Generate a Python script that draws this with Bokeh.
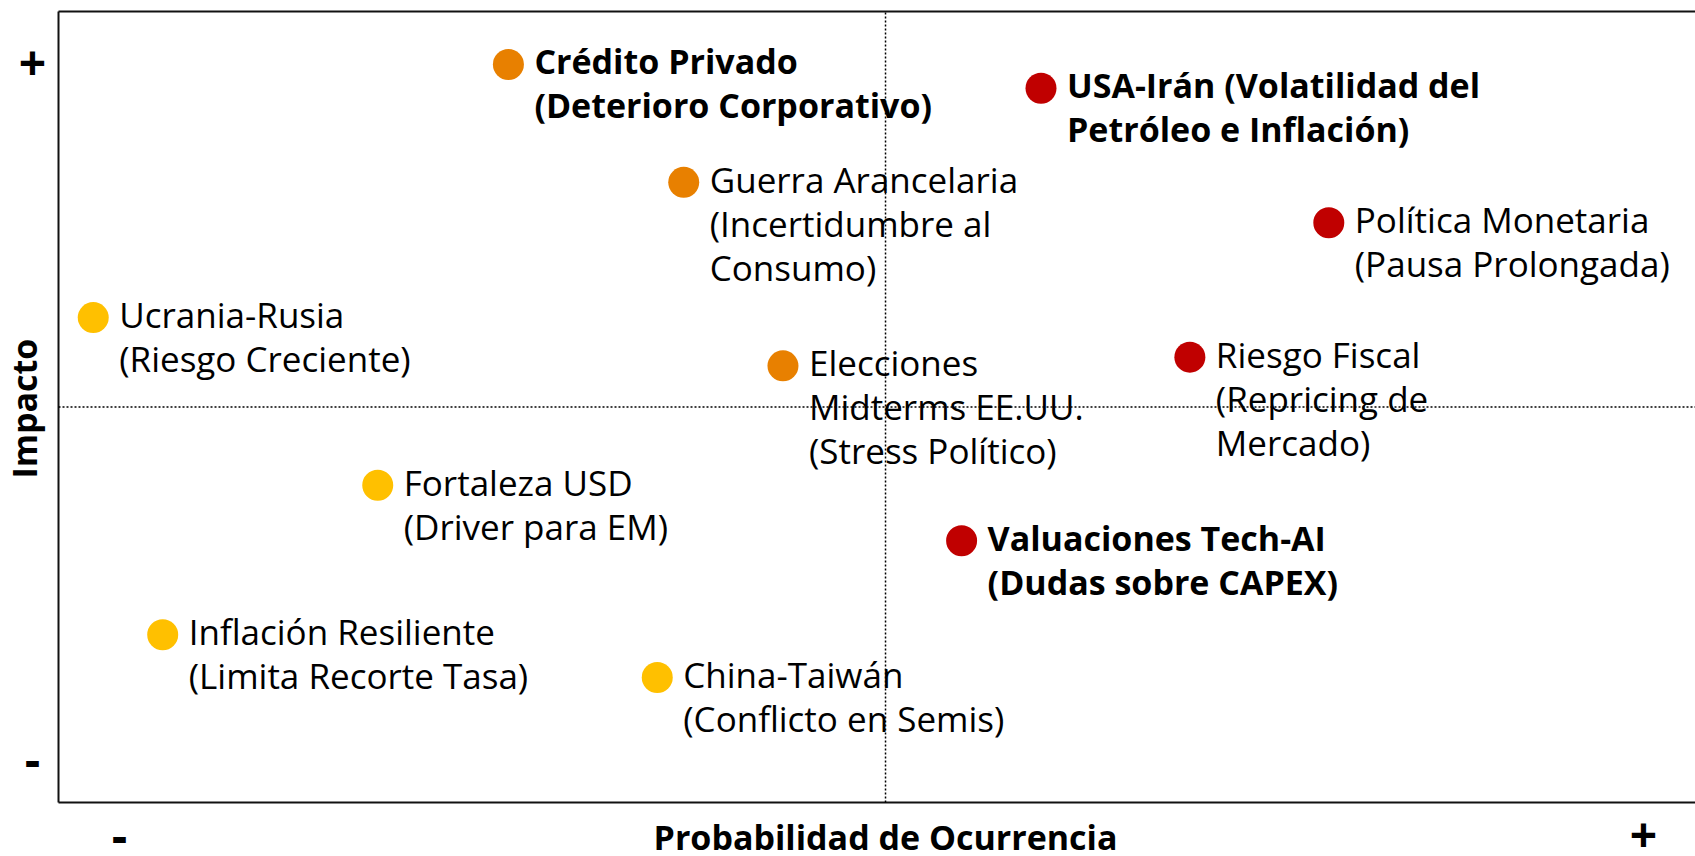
import math
from bokeh.plotting import figure
from bokeh.models import Range1d, ColumnDataSource
from bokeh.core.properties import value, field
from bokeh.embed import file_html
from bokeh.resources import INLINE

# ---- data ----
riesgos = [
    "Crédito Privado\n(Deterioro Corporativo)",
    "USA-Irán (Volatilidad del\nPetróleo e Inflación)",
    "Guerra Arancelaria\n(Incertidumbre al\nConsumo)",
    "Política Monetaria\n(Pausa Prolongada)",
    "Ucrania-Rusia\n(Riesgo Creciente)",
    "Riesgo Fiscal\n(Repricing de\nMercado)",
    "Elecciones\nMidterms EE.UU.\n(Stress Político)",
    "Fortaleza USD\n(Driver para EM)",
    "Valuaciones Tech-AI\n(Dudas sobre CAPEX)",
    "Inflación Resiliente\n(Limita Recorte Tasa)",
    "China-Taiwán\n(Conflicto en Semis)",
]
probabilidad = [2.72, 5.94, 3.78, 7.68, 0.21, 6.84, 4.38, 1.93, 5.46, 0.63, 3.62]
impacto = [9.33, 9.03, 7.84, 7.33, 6.13, 5.63, 5.52, 4.01, 3.31, 2.12, 1.58]
nivel = ["medio", "alto", "medio", "alto", "bajo", "alto", "medio", "bajo", "alto", "bajo", "bajo"]
destacado = [True, True, False, False, False, False, False, False, True, False, False]

eje_x_titulo = "Probabilidad de Ocurrencia"
eje_y_titulo = "Impacto"

colores = {"alto": "#C00000", "medio": "#E88000", "bajo": "#FFC000"}

X_MAX = 9.897
Y_MAX = 10.0
MID = 5.0
FONT = "Open Sans"
PX_Y = 79.1               # pixels per y unit
LINE_STEP = 44 / PX_Y     # one text line, in y units
TEXT_LIFT = 3 / PX_Y      # small upward nudge of the labels

p = figure(width=1695, height=856,
           x_range=Range1d(-0.3507, X_MAX), y_range=Range1d(-0.6827, 10.139),
           output_backend="svg", toolbar_location=None,
           x_axis_location=None, y_axis_location=None,
           min_border=0)
p.background_fill_color = "white"
p.border_fill_color = "white"
p.outline_line_color = None
p.xgrid.grid_line_color = None
p.ygrid.grid_line_color = None

# box: left, top, bottom edges (open on the right)
p.segment(x0=[0, 0, 0], y0=[0, Y_MAX, 0], x1=[0, X_MAX, X_MAX], y1=[Y_MAX, Y_MAX, 0],
          line_color="#111111", line_width=2)

# markers
pts = ColumnDataSource(dict(x=probabilidad, y=impacto, c=[colores[n] for n in nivel]))
p.scatter("x", "y", source=pts, size=31, fill_color="c", line_color=None, marker="circle")

# labels, one row per text line
tx, ty, tt, ts, tz = [], [], [], [], []
for r, x, y, b in zip(riesgos, probabilidad, impacto, destacado):
    for i, ln in enumerate(r.split("\n")):
        tx.append(x)
        ty.append(y - i * LINE_STEP + TEXT_LIFT)
        tt.append(ln)
        ts.append("bold" if b else "normal")
        tz.append("34px" if b else "35px")
lab = ColumnDataSource(dict(x=tx, y=ty, t=tt, s=ts, z=tz))
p.text("x", "y", text="t", source=lab, x_offset=26, text_align="left", text_baseline="middle",
       text_font=value(FONT), text_font_size=field("z"), text_font_style=field("s"),
       text_color="#000000")

# quadrant dotted lines (on top of the labels)
p.segment(x0=[MID, 0], y0=[0, MID], x1=[MID, X_MAX], y1=[Y_MAX, MID],
          line_color="#000000", line_width=1.5, line_dash="2 2")

# axis annotations
signos = ColumnDataSource(dict(x=[-0.157, -0.157, 0.369, 9.583],
                               y=[9.355, 0.544, -0.42, -0.40],
                               t=["+", "-", "-", "+"]))
p.text("x", "y", text="t", source=signos, text_align="center", text_baseline="middle",
       text_font=value(FONT), text_font_size="48px", text_font_style="bold",
       text_color="#000000")
p.text(x=[MID], y=[-0.44], text=[eje_x_titulo], text_align="center", text_baseline="middle",
       text_font=value(FONT), text_font_size="34px", text_font_style="bold",
       text_color="#000000")
p.text(x=[-0.206], y=[MID - 0.02], text=[eje_y_titulo], angle=math.pi / 2,
       text_align="center", text_baseline="middle",
       text_font=value(FONT), text_font_size="34px", text_font_style="bold",
       text_color="#000000")

open("out.html", "w").write(file_html(p, INLINE))
